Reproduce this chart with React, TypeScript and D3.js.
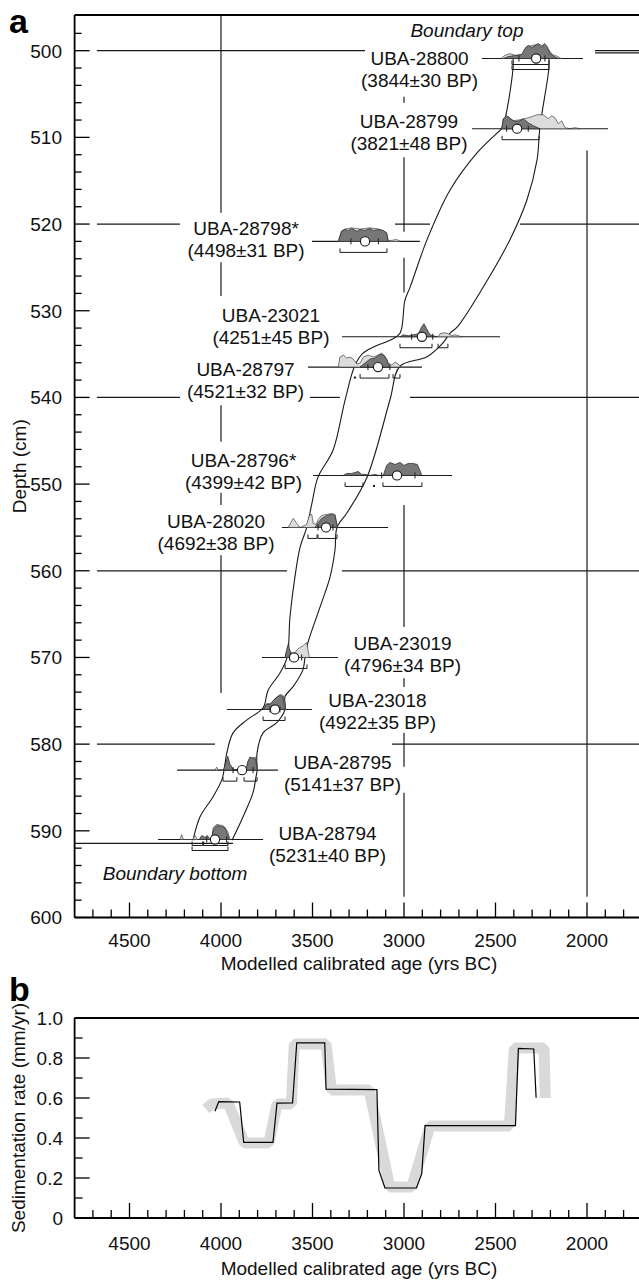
import React from 'react';
import * as d3 from 'd3';

// ---------------- data ----------------
const ageTicks = [4500, 4000, 3500, 3000, 2500, 2000];
const depthTicks = [500, 510, 520, 530, 540, 550, 560, 570, 580, 590, 600];
const rateTicks = [0, 0.2, 0.4, 0.6, 0.8, 1.0];
const rateTickLabels = ['0', '0.2', '0.4', '0.6', '0.8', '1.0'];

const sampleCodes = ['UBA-28800', 'UBA-28799', 'UBA-28798*', 'UBA-23021', 'UBA-28797', 'UBA-28796*', 'UBA-28020', 'UBA-23019', 'UBA-23018', 'UBA-28795', 'UBA-28794'];
const sampleDates = ['(3844±30 BP)', '(3821±48 BP)', '(4498±31 BP)', '(4251±45 BP)', '(4521±32 BP)', '(4399±42 BP)', '(4692±38 BP)', '(4796±34 BP)', '(4922±35 BP)', '(5141±37 BP)', '(5231±40 BP)'];
const sampleDepths = [500.9, 509, 522, 533, 536.5, 549, 555, 570, 576, 583, 591];
const sampleMeans = [2278, 2382, 3213, 2902, 3142, 3038, 3426, 3601, 3705, 3885, 4033];
const baselineFrom = [2574, 2628, 3503, 3339, 3525, 3497, 3667, 3776, 3967, 4240, 4344];
const baselineTo = [2022, 1885, 2913, 2475, 2902, 2738, 3087, 3361, 3503, 3689, 3770];
const labelYears = [2915, 2973, 3863, 3727, 3866, 3877, 4027, 3008, 3145, 3336, 3418];
const labelDepths = [502.1, 509.4, 521.8, 531.8, 538.0, 548.5, 555.5, 569.6, 576.2, 583.4, 591.5];
const sigmaTicks: number[][] = [[2372, 2230], [2439, 2321], [3290, 3140], [2958, 2843], [3197, 3077], [3122, 2940], [3470, 3388], [3623, 3559], [3732, 3678], [3934, 3825], [4078, 3969]];
// ranges: [from, to, row] row 0 = 68.2 %, row 1 = 95.4 %
const ranges: number[][][] = [
  [[2410, 2208, 0], [2410, 2208, 1]],
  [[2464, 2262, 1]],
  [[3350, 3093, 1]],
  [[3022, 2847, 1], [2814, 2760, 1]],
  [[3268, 3268, 1], [3240, 3082, 1], [3060, 3022, 1]],
  [[3322, 3224, 1], [3164, 3164, 1], [3115, 2902, 1]],
  [[3525, 3475, 1], [3470, 3366, 1]],
  [[3650, 3530, 1]],
  [[3770, 3650, 1]],
  [[3989, 3913, 1], [3874, 3803, 1]],
  [[4158, 4100, 0], [4095, 3962, 0], [4158, 3962, 1]],
];
// likelihood (light) and posterior (dark) distributions: [year, relative probability]
const lightDists: number[][][] = [
  [[2470, 0], [2450, 0.2], [2420, 0.33], [2390, 0.2], [2350, 0.27], [2330, 0.8], [2300, 0.87], [2270, 0.93], [2240, 0.87], [2210, 0.6], [2190, 0.27], [2160, 0.13], [2140, 0]],
  [[2466, 0], [2457, 0.67], [2430, 0.8], [2403, 0.53], [2366, 0.6], [2339, 0.67], [2302, 0.8], [2275, 0.93], [2239, 0.93], [2211, 0.67], [2193, 0.87], [2175, 0.73], [2157, 0.33], [2138, 0.53], [2120, 0.07], [2093, 0], [2066, 0.07], [2038, 0]],
  [[3359, 0], [3341, 0.7], [3322, 0.83], [3286, 0.9], [3240, 0.83], [3186, 0.9], [3140, 0.83], [3095, 0.6], [3086, 0.05], [3067, 0.07], [3040, 0.13], [3022, 0]],
  [[2813, 0], [2803, 0.2], [2776, 0.27], [2758, 0.2], [2739, 0.07], [2721, 0.13], [2703, 0.07], [2685, 0]],
  [[3359, 0], [3350, 0.67], [3332, 0.8], [3313, 0.6], [3295, 0.67], [3277, 0.53], [3258, 0.2], [3240, 0.27], [3222, 0.67], [3195, 0.8], [3168, 0.67], [3140, 0.8], [3122, 0.93], [3104, 0.73], [3086, 0.27], [3067, 0.13], [3049, 0.33], [3031, 0.2], [3018, 0]],
  [],
  [[3632, 0], [3619, 0.33], [3605, 0.6], [3586, 0.27], [3568, 0], [3532, 0.2], [3517, 0.8], [3504, 0.87], [3496, 0.27], [3481, 0.2], [3468, 0.53], [3450, 0.8], [3422, 0.87], [3395, 0.93], [3377, 0.87], [3364, 0]],
  [[3650, 0], [3641, 0.4], [3632, 0.6], [3614, 0.3], [3596, 0.3], [3583, 0.53], [3568, 0.67], [3550, 0.8], [3532, 1], [3523, 0.4], [3517, 0]],
  [[3769, 0], [3750, 0.4], [3725, 0.4], [3705, 0.73], [3678, 1], [3660, 0.93], [3645, 0]],
  [[4033, 0], [4023, 0.2], [4015, 0], [3863, 0], [3850, 0.67], [3830, 0.8], [3810, 0.87], [3800, 0]],
  [[4224, 0], [4215, 0.33], [4206, 0], [4155, 0], [4142, 0.27], [4130, 0], [4051, 0], [4042, 0.8], [4023, 1], [3990, 0.93], [3963, 0.53], [3951, 0]],
];
const darkDists: number[][][] = [
  [[2457, 0], [2430, 0.13], [2393, 0.2], [2357, 0.27], [2339, 0.67], [2321, 0.87], [2302, 0.73], [2284, 0.87], [2266, 1], [2248, 0.73], [2233, 1], [2217, 0.8], [2202, 0.33], [2180, 0.13], [2157, 0]],
  [[2466, 0], [2457, 0.67], [2439, 0.87], [2411, 0.6], [2393, 0.47], [2366, 0.53], [2348, 0.67], [2321, 0.4], [2293, 0.2], [2257, 0]],
  [[3359, 0], [3341, 0.67], [3322, 0.8], [3304, 0.73], [3286, 0.87], [3258, 0.67], [3240, 0.8], [3213, 0.73], [3186, 0.87], [3168, 0.73], [3140, 0.8], [3113, 0.73], [3095, 0.53], [3086, 0]],
  [[3022, 0], [3004, 0.13], [2977, 0.07], [2949, 0.13], [2922, 0.2], [2903, 0.67], [2891, 0.87], [2876, 0.53], [2858, 0.13], [2840, 0.07], [2821, 0]],
  [[3240, 0], [3213, 0.27], [3186, 0.53], [3158, 0.6], [3131, 0.87], [3113, 0.8], [3095, 0.53], [3080, 0]],
  [[3332, 0], [3313, 0.13], [3286, 0.13], [3268, 0.2], [3250, 0.27], [3231, 0.07], [3213, 0.07], [3186, 0], [3158, 0.07], [3140, 0], [3113, 0], [3095, 0.67], [3077, 0.87], [3049, 0.73], [3022, 0.87], [3000, 0.67], [2977, 0.8], [2949, 0.8], [2927, 0.73], [2913, 0.33], [2903, 0]],
  [[3486, 0], [3468, 0.33], [3450, 0.6], [3422, 0.8], [3395, 0.87], [3377, 0.8], [3364, 0]],
  [[3650, 0], [3641, 0.53], [3632, 0.93], [3623, 0.4], [3614, 0]],
  [[3769, 0], [3754, 0.33], [3732, 0.33], [3714, 0.6], [3696, 0.8], [3678, 0.93], [3663, 0.87], [3654, 0.27], [3649, 0]],
  [[3987, 0], [3974, 0.53], [3963, 0.93], [3951, 0.4], [3933, 0.07], [3914, 0], [3863, 0], [3854, 0.53], [3842, 0.87], [3824, 0.8], [3810, 0.73], [3802, 0]],
  [[4119, 0], [4105, 0.27], [4087, 0.13], [4075, 0.27], [4060, 0], [4051, 0], [4042, 0.67], [4023, 0.93], [3996, 0.87], [3978, 0.8], [3966, 0.4], [3955, 0]],
];
// 95 % envelope of the depth model: [depth, year]
const leftEnvelope = [[500.9, 2404], [502, 2404], [508.9, 2464], [509.5, 2492], [511.8, 2601], [516.1, 2749], [521.8, 2874], [527.3, 2967], [528.8, 2995], [532.6, 3022], [533.4, 3077], [534.1, 3158], [534.9, 3224], [536.3, 3268], [540.3, 3322], [546.1, 3388], [549.2, 3470], [552.2, 3503], [554.9, 3530], [557.3, 3568], [560.7, 3596], [565.3, 3623], [570.0, 3639], [571.8, 3678], [573.8, 3743], [575.8, 3770], [577.2, 3858], [578.7, 3934], [580.9, 3967], [583.1, 3984], [584.1, 3995], [586.1, 4044], [588.4, 4115], [591.1, 4153]];
const rightEnvelope = [[500.9, 2208], [502, 2208], [508.8, 2257], [512.6, 2273], [517.2, 2328], [521.8, 2421], [527.3, 2568], [531.9, 2710], [532.6, 2749], [533.7, 2787], [535.3, 2874], [536.4, 3022], [540.3, 3077], [549.2, 3202], [553.3, 3311], [555.0, 3366], [557.6, 3377], [560.7, 3404], [564.2, 3459], [568.3, 3525], [570.0, 3541], [571.4, 3552], [573.4, 3607], [574.5, 3650], [576.0, 3650], [577.5, 3694], [578.7, 3770], [581.0, 3803], [583.1, 3803], [583.8, 3809], [585.6, 3825], [588.4, 3880], [591.1, 3940]];
// boundaries: [depth, fromYear, toYear]
const boundaryLines = [[500.25, 1956, 1600], [591.45, 4800, 3934]];
const boundaryNames = ['Boundary top', 'Boundary bottom'];
const boundaryLabelYears = [2656, 4251];
const boundaryLabelDepths = [497.6, 594.9];
// grid segments (with gaps around labels and distributions)
const hGridDepths = [500, 520, 540, 560, 580];
const hGridSegments = [
  [[4678, 3213], [1956, 1600]],
  [[4678, 4224], [3049, 2858], [2366, 1600]],
  [[4678, 4224], [3514, 3350], [2967, 1600]],
  [[4678, 3639], [3339, 1600]],
  [[4678, 4033], [3066, 1600]],
];
const vGridYears = [4000, 3000, 2000];
const vGridSegments = [
  [[495.9, 518.7], [524.4, 528.3], [540.9, 545.1], [551.0, 552.4], [558.2, 574.1]],
  [[505.3, 506.0], [512.3, 520.9], [523.9, 527.9], [552.4, 566.5], [572.4, 573.4], [578.7, 582.6], [585.6, 597.6]],
  [[511.5, 597.6]],
];
// panel b: sedimentation rate
const bandYears = [4083, 4050, 3961, 3872, 3738, 3694, 3615, 3600, 3426, 3397, 3190, 3078, 2958, 2858, 2424, 2397, 2235, 2228];
const bandRates = [0.545, 0.57, 0.575, 0.375, 0.375, 0.57, 0.57, 0.87, 0.87, 0.64, 0.64, 0.155, 0.155, 0.46, 0.46, 0.85, 0.85, 0.6];
const lineYears = [4033, 4012, 3898, 3876, 3716, 3694, 3609, 3586, 3433, 3426, 3148, 3137, 3104, 2932, 2903, 2885, 2391, 2375, 2291, 2278];
const lineRates = [0.534, 0.582, 0.58, 0.378, 0.378, 0.574, 0.576, 0.876, 0.876, 0.644, 0.642, 0.238, 0.15, 0.15, 0.222, 0.462, 0.462, 0.848, 0.845, 0.601];

// ---------------- layout ----------------
const W = 639;
const H = 1284;
const FONT = '"Liberation Sans", Arial, Helvetica, sans-serif';
const FS = 19;
const INK = '#1a1a1a';

const xA = d3.scaleLinear().domain([4000, 2000]).range([221, 587]);
const yA = d3.scaleLinear().domain([500, 600]).range([50.7, 917.5]);
const yB = d3.scaleLinear().domain([0, 1]).range([1218, 1018]);
const hScale = d3.scaleLinear().domain([0, 1]).range([0, 15]);

const LEFT = xA(4800);
const TOP_A = 15;
const BOT_A = yA(600);

function distPath(pts: number[][], depth: number) {
  const base = yA(depth);
  const a = d3.area<number[]>().x(d => xA(d[0])).y0(base).y1(d => base - hScale(d[1]));
  return a(pts) || '';
}

const envLine = d3.line<number[]>().x(d => xA(d[1])).y(d => yA(d[0])).curve(d3.curveCatmullRom.alpha(0.5));

export default function App() {
  const xMinor = d3.range(4700, 1600, -100);
  const yMinorA = d3.range(498, 601, 2);
  const yMinorB = d3.range(0, 11, 1).map(v => v / 10);

  const bandPts = bandYears.map((y, i) => [y, bandRates[i]]);
  const linePts = lineYears.map((y, i) => [y, lineRates[i]]);
  const lineB = d3.line<number[]>().x(d => xA(d[0])).y(d => yB(d[1]));

  return (
    <svg width={W} height={H} style={{ position: 'absolute', left: 0, top: 0, background: '#fff' }} fontFamily={FONT}>
      <rect x={0} y={0} width={W} height={H} fill="#fff" />
      {/* ---------- Panel a ---------- */}
      <text x={9} y={33} fontSize={34} fontWeight="bold" fill="#000">a</text>
      {/* grid */}
      <g stroke={INK} strokeWidth={1.2}>
        {hGridDepths.map((d, i) => hGridSegments[i].map((s, j) => (
          <line key={`h${i}-${j}`} x1={xA(s[0])} x2={Math.min(W, xA(s[1]))} y1={yA(d)} y2={yA(d)} />
        )))}
        {vGridYears.map((yr, i) => vGridSegments[i].map((s, j) => (
          <line key={`v${i}-${j}`} x1={xA(yr)} x2={xA(yr)} y1={yA(s[0])} y2={yA(s[1])} />
        )))}
      </g>
      {/* boundary baselines */}
      <g stroke={INK} strokeWidth={1.2}>
        {boundaryLines.map((b, i) => (
          <line key={`b${i}`} x1={Math.max(LEFT, xA(b[1]))} x2={Math.min(W, xA(b[2]))} y1={yA(b[0])} y2={yA(b[0])} />
        ))}
      </g>
      {/* envelope */}
      <path d={envLine(leftEnvelope) || ''} fill="none" stroke={INK} strokeWidth={1.1} />
      <path d={envLine(rightEnvelope) || ''} fill="none" stroke={INK} strokeWidth={1.1} />
      {/* sample rows */}
      {sampleDepths.map((dep, i) => {
        const base = yA(dep);
        return (
          <g key={`s${i}`}>
            <line x1={xA(baselineFrom[i])} x2={xA(baselineTo[i])} y1={base} y2={base} stroke={INK} strokeWidth={1.1} />
            {lightDists[i].length > 0 && (
              <path d={distPath(lightDists[i], dep)} fill="#dcdcdc" stroke="#444" strokeWidth={0.7} />
            )}
            <path d={distPath(darkDists[i], dep)} fill="#777" stroke="#222" strokeWidth={0.7} />
            {sigmaTicks[i].map((t, k) => (
              <line key={`t${k}`} x1={xA(t)} x2={xA(t)} y1={base - 3} y2={base + 3} stroke={INK} strokeWidth={1} />
            ))}
            {ranges[i].map((r, k) => {
              const yy = base + (r[2] === 0 ? 6 : 11);
              if (r[0] === r[1]) {
                return <rect key={`r${k}`} x={xA(r[0]) - 1} y={yy - 1.5} width={2} height={2} fill={INK} />;
              }
              const x1 = xA(r[0]);
              const x2 = xA(r[1]);
              return <path key={`r${k}`} d={`M${x1},${yy - 4}V${yy}H${x2}V${yy - 4}`} fill="none" stroke={INK} strokeWidth={1} />;
            })}
            <circle cx={xA(sampleMeans[i])} cy={base} r={4.6} fill="#fff" stroke={INK} strokeWidth={1.1} />
            <text x={xA(labelYears[i])} y={yA(labelDepths[i]) - 11 + 6.8} textAnchor="middle" fontSize={FS} fill="#111">{sampleCodes[i]}</text>
            <text x={xA(labelYears[i])} y={yA(labelDepths[i]) + 11 + 6.8} textAnchor="middle" fontSize={FS} fill="#111">{sampleDates[i]}</text>
          </g>
        );
      })}
      {boundaryNames.map((n, i) => (
        <text key={`bn${i}`} x={xA(boundaryLabelYears[i])} y={yA(boundaryLabelDepths[i]) + 6.8} textAnchor="middle" fontSize={FS} fontStyle="italic" fill="#111">{n}</text>
      ))}
      {/* axes frame a */}
      <g stroke="#000" strokeWidth={1.8} fill="none">
        <line x1={LEFT} x2={W} y1={TOP_A} y2={TOP_A} />
        <line x1={LEFT} x2={LEFT} y1={TOP_A} y2={BOT_A} />
        <line x1={LEFT} x2={W} y1={BOT_A} y2={BOT_A} />
      </g>
      <g stroke="#000" strokeWidth={1.3}>
        {yMinorA.map(d => (
          <line key={`ya${d}`} x1={LEFT} x2={LEFT + (d % 10 === 0 ? 15 : 7)} y1={yA(d)} y2={yA(d)} />
        ))}
        {xMinor.map(y => (
          <line key={`xa${y}`} x1={xA(y)} x2={xA(y)} y1={BOT_A} y2={BOT_A - (y % 500 === 0 ? 15 : 8)} />
        ))}
      </g>
      {depthTicks.map(d => (
        <text key={`dl${d}`} x={62} y={yA(d) + 6.8} textAnchor="end" fontSize={FS} fill="#111">{d}</text>
      ))}
      {ageTicks.map(a => (
        <text key={`al${a}`} x={xA(a)} y={947} textAnchor="middle" fontSize={FS} fill="#111">{a}</text>
      ))}
      <text x={xA(3000) - 45} y={970} textAnchor="middle" fontSize={FS} fill="#111">Modelled calibrated age (yrs BC)</text>
      <text transform={`translate(26,${(TOP_A + BOT_A) / 2}) rotate(-90)`} textAnchor="middle" fontSize={FS} fill="#111">Depth (cm)</text>

      {/* ---------- Panel b ---------- */}
      <text x={9} y={1001} fontSize={34} fontWeight="bold" fill="#000">b</text>
      <path d={lineB(bandPts) || ''} fill="none" stroke="#d9d9d9" strokeWidth={11} strokeLinejoin="bevel" />
      <path d={lineB(linePts) || ''} fill="none" stroke="#000" strokeWidth={1.2} />
      <g stroke="#000" strokeWidth={1.8} fill="none">
        <line x1={LEFT} x2={W} y1={yB(1)} y2={yB(1)} />
        <line x1={LEFT} x2={LEFT} y1={yB(1)} y2={yB(0)} />
        <line x1={LEFT} x2={W} y1={yB(0)} y2={yB(0)} />
      </g>
      <g stroke="#000" strokeWidth={1.3}>
        {yMinorB.map((v, i) => (
          <line key={`yb${i}`} x1={LEFT} x2={LEFT + (i % 2 === 0 ? 15 : 8)} y1={yB(v)} y2={yB(v)} />
        ))}
        {xMinor.map(y => (
          <line key={`xb${y}`} x1={xA(y)} x2={xA(y)} y1={yB(0)} y2={yB(0) - (y % 500 === 0 ? 15 : 8)} />
        ))}
      </g>
      {rateTicks.map((r, i) => (
        <text key={`rl${i}`} x={63} y={yB(r) + 6.8} textAnchor="end" fontSize={FS} fill="#111">{rateTickLabels[i]}</text>
      ))}
      {ageTicks.map(a => (
        <text key={`bl${a}`} x={xA(a)} y={1250} textAnchor="middle" fontSize={FS} fill="#111">{a}</text>
      ))}
      <text x={xA(3000) - 45} y={1275} textAnchor="middle" fontSize={FS} fill="#111">Modelled calibrated age (yrs BC)</text>
      <text transform={`translate(25,1118) rotate(-90)`} textAnchor="middle" fontSize={FS} fill="#111">Sedimentation rate (mm/yr)</text>
    </svg>
  );
}
